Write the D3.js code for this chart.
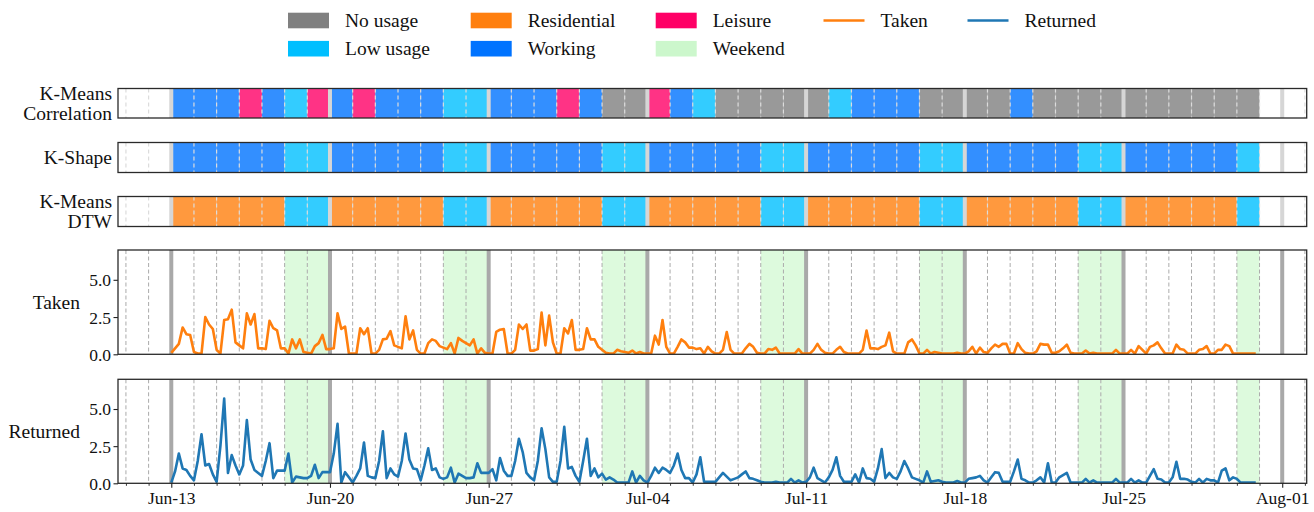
<!DOCTYPE html>
<html><head><meta charset="utf-8">
<script src="https://cdn.jsdelivr.net/npm/d3@7"></script>
<style>
body{margin:0;background:#fff}
text{font-family:"Liberation Serif","DejaVu Serif","Times New Roman",serif;fill:#111}
</style>
</head><body>
<svg id="chart" width="1314" height="512"></svg>
<script>
// ---- data -------------------------------------------------------------
const firstDay = "2016-06-13";          // first day with observations (Monday)
const categories = ["No usage", "Low usage", "Residential", "Working", "Leisure"];
const categoryColors = ["#808080", "#00bfff", "#ff7f0e", "#0073ff", "#ff0066"];
const weekendColor = "#ccf7cc";
const seriesNames = ["Taken", "Returned"];
const seriesColors = ["#ff7f0e", "#1f77b4"];
const panelLabels = [["K-Means", "Correlation"], ["K-Shape"], ["K-Means", "DTW"], ["Taken"], ["Returned"]];
const tickLabels = ["Jun-13", "Jun-20", "Jun-27", "Jul-04", "Jul-11", "Jul-18", "Jul-25", "Aug-01"];
const yTickLabels = ["0.0", "2.5", "5.0"];

// daily cluster assignment, Jun 13 .. Jul 30
const kmeansCorrelation = [
  "Working","Working","Working","Leisure","Working","Low usage","Leisure",
  "Working","Leisure","Working","Working","Working","Low usage","Low usage",
  "Working","Working","Working","Leisure","Working","No usage","No usage",
  "Leisure","Working","Low usage","No usage","No usage","No usage","No usage",
  "No usage","Low usage","Working","Working","Working","No usage","No usage",
  "No usage","No usage","Working","No usage","No usage","No usage","No usage",
  "No usage","No usage","No usage","No usage","No usage","No usage"];
const kShape = [
  "Working","Working","Working","Working","Working","Low usage","Low usage",
  "Working","Working","Working","Working","Working","Low usage","Low usage",
  "Working","Working","Working","Working","Working","Low usage","Low usage",
  "Working","Working","Working","Working","Working","Low usage","Low usage",
  "Working","Working","Working","Working","Working","Low usage","Low usage",
  "Working","Working","Working","Working","Working","Low usage","Low usage",
  "Working","Working","Working","Working","Working","Low usage"];
const kmeansDTW = [
  "Residential","Residential","Residential","Residential","Residential","Low usage","Low usage",
  "Residential","Residential","Residential","Residential","Residential","Low usage","Low usage",
  "Residential","Residential","Residential","Residential","Residential","Low usage","Low usage",
  "Residential","Residential","Residential","Residential","Residential","Low usage","Low usage",
  "Residential","Residential","Residential","Residential","Residential","Low usage","Low usage",
  "Residential","Residential","Residential","Residential","Residential","Low usage","Low usage",
  "Residential","Residential","Residential","Residential","Residential","Low usage"];

// bikes taken, 4-hour bins (00,04,08,12,16,20h), one row per day
const taken = [
  0.1,0.4,0.7,1.8,1.35,1.3,
  0.15,0.05,0.05,2.5,2.0,1.7,
  0.3,0.05,2.3,2.35,3.0,0.8,
  0.6,0.4,2.75,2.0,2.7,0.4,
  0.4,0.35,2.25,1.75,1.6,0.4,
  0.4,0.05,1.0,0.4,1.0,0.15,
  0.1,0.05,0.55,0.75,1.3,0.35,
  0.35,0.4,2.75,1.7,1.85,0.05,
  0.05,0.05,1.75,1.35,1.75,0.05,
  0.05,0.3,1.0,1.05,1.55,0.6,
  0.5,0.4,2.55,1.0,1.6,0.3,
  0.05,0.05,0.75,1.0,0.9,0.55,
  0.45,0.35,0.75,0.05,1.1,0.9,
  0.75,0.6,1.0,0.05,0.4,0.1,
  0.05,0.05,1.5,1.65,1.7,0.05,
  0.05,0.3,2.0,1.7,2.0,0.25,
  0.25,0.35,2.8,0.6,2.6,0.8,
  0.05,0.05,1.75,1.4,2.3,0.3,
  0.3,0.35,1.75,1.0,1.0,0.5,
  0.3,0.1,0.05,0.05,0.3,0.2,
  0.15,0.1,0.25,0.05,0.15,0.05,
  0.05,0.05,1.25,0.65,2.3,0.5,
  0.05,0.05,0.5,1.0,0.8,0.45,
  0.45,0.35,0.4,0.05,0.5,0.2,
  0.05,0.05,0.3,1.5,0.3,0.05,
  0.05,0.05,0.4,0.7,0.5,0.1,
  0.05,0.05,0.35,0.3,0.45,0.05,
  0.05,0.05,0.05,0.05,0.35,0.05,
  0.05,0.05,0.3,0.7,0.3,0.1,
  0.05,0.05,0.3,0.5,0.15,0.05,
  0.05,0.05,0.05,0.3,1.6,0.4,
  0.4,0.35,0.5,0.6,1.45,0.2,
  0.05,0.05,0.05,0.8,1.0,0.6,
  0.05,0.05,0.3,0.05,0.15,0.1,
  0.05,0.05,0.05,0.05,0.1,0.05,
  0.05,0.2,0.5,0.05,0.45,0.15,
  0.1,0.4,0.65,0.5,0.7,0.7,
  0.05,0.05,0.75,0.35,0.1,0.05,
  0.05,0.2,0.7,0.65,0.65,0.1,
  0.1,0.2,0.4,0.65,0.1,0.05,
  0.05,0.05,0.25,0.05,0.1,0.05,
  0.05,0.05,0.05,0.05,0.3,0.05,
  0.05,0.05,0.3,0.05,0.55,0.3,
  0.05,0.5,0.6,0.8,0.4,0.05,
  0.05,0.05,0.65,0.35,0.3,0.05,
  0.05,0.05,0.3,0.35,0.55,0.05,
  0.05,0.3,0.3,0.65,0.55,0.05,
  0.05,0.05,0.05,0.05,0.05,0.05];

// bikes returned, same bins
const returned = [
  0.05,0.8,2.0,1.0,0.9,0.5,
  0.2,1.5,3.3,1.2,1.3,0.6,
  0.1,2.5,5.7,0.7,1.9,1.2,
  0.6,1.2,4.25,1.6,0.9,0.7,
  0.5,1.5,2.7,0.35,0.85,0.85,
  0.85,2.0,0.05,0.45,0.4,0.35,
  0.35,0.5,1.25,0.35,0.75,0.75,
  0.75,2.0,4.0,0.05,0.75,0.4,
  0.05,0.5,1.0,2.75,0.5,0.4,
  0.35,1.5,3.5,0.35,1.0,0.6,
  0.45,1.5,3.35,1.6,1.0,0.95,
  0.2,1.2,2.35,0.9,1.0,0.4,
  0.3,0.4,1.05,0.05,0.65,0.5,
  0.35,0.35,0.4,1.35,0.7,0.7,
  0.7,0.95,0.2,1.7,0.85,0.5,
  0.5,1.5,3.0,2.1,0.7,0.4,
  0.2,1.5,3.7,2.3,0.4,0.1,
  0.1,1.5,3.8,1.0,1.1,0.5,
  0.1,1.5,3.0,0.5,1.0,0.4,
  0.65,0.25,0.4,0.25,0.05,0.05,
  0.05,0.05,0.8,0.05,0.5,0.2,
  0.05,0.5,1.05,0.7,1.05,0.9,
  0.7,1.2,2.0,0.9,0.35,0.35,
  0.05,0.6,1.75,0.1,0.1,0.1,
  0.1,0.4,0.7,0.45,0.2,0.3,
  0.4,0.6,0.8,0.35,0.3,0.2,
  0.1,0.05,0.05,0.05,0.1,0.05,
  0.05,0.05,0.3,0.05,0.2,0.05,
  0.1,0.4,1.05,0.35,0.2,0.05,
  0.4,0.9,1.75,0.5,0.1,0.1,
  0.1,0.6,0.05,1.0,0.35,0.3,
  0.1,1.0,2.3,0.35,0.7,0.4,
  0.3,0.8,1.5,1.0,0.4,0.3,
  0.2,0.05,0.8,0.1,0.15,0.2,
  0.1,0.05,0.05,0.05,0.15,0.05,
  0.05,0.3,0.35,0.4,0.5,0.2,
  0.05,0.4,0.75,0.7,0.1,0.1,
  0.1,0.8,1.6,0.3,0.2,0.05,
  0.05,0.2,0.4,0.05,1.35,0.05,
  0.05,0.4,0.55,0.7,0.05,0.05,
  0.05,0.05,0.3,0.05,0.2,0.05,
  0.05,0.05,0.05,0.05,0.3,0.05,
  0.05,0.05,0.3,0.05,0.2,0.05,
  0.05,0.5,0.95,0.3,0.25,0.05,
  0.05,0.4,1.45,0.3,0.3,0.25,
  0.1,0.05,0.3,0.05,0.3,0.2,
  0.2,0.05,0.85,1.0,0.2,0.4,
  0.3,0.05,0.05,0.05,0.05,0.05];

// ---- layout -------------------------------------------------------------
const svg = d3.select("#chart");
const left = 118, right = 1306.7;
const t0 = new Date(firstDay + "T00:00:00Z");
const HOUR = 3600e3, DAY = 24 * HOUR;
const binHours = 24 / 6;

const x = d3.scaleUtc()
  .domain([new Date(t0.getTime() - 2.35 * DAY), new Date(t0.getTime() + 50.08 * DAY)])
  .range([left, right]);

const colorOf = d3.scaleOrdinal().domain(categories).range(categoryColors);

const allDays = d3.utcDay.range(d3.utcDay.ceil(x.domain()[0]), x.domain()[1]);
const mondays = d3.utcMonday.range(d3.utcDay.ceil(x.domain()[0]), x.domain()[1]);
const nDays = kmeansCorrelation.length;
const dataDays = d3.range(nDays).map(i => d3.utcDay.offset(t0, i));
const weekends = dataDays.filter(d => d.getUTCDay() === 6 || d.getUTCDay() === 0);

const panels = [
  {top: 88.5, bottom: 118, kind: "cluster", values: kmeansCorrelation},
  {top: 142.5, bottom: 172.5, kind: "cluster", values: kShape},
  {top: 196.5, bottom: 226.5, kind: "cluster", values: kmeansDTW},
  {top: 250, bottom: 354.3, kind: "line", values: taken, color: seriesColors[0]},
  {top: 379.3, bottom: 483.3, kind: "line", values: returned, color: seriesColors[1]}
];

const yMax = 7;

panels.forEach((p, pi) => {
  const g = svg.append("g");
  const clipId = "clip" + pi;
  svg.append("clipPath").attr("id", clipId)
    .append("rect").attr("x", left).attr("y", p.top)
    .attr("width", right - left).attr("height", p.bottom - p.top);
  const inner = g.append("g").attr("clip-path", `url(#${clipId})`);

  if (p.kind === "cluster") {
    // one coloured cell per day
    inner.selectAll("rect.cell").data(p.values).join("rect")
      .attr("class", "cell")
      .attr("x", (v, i) => x(dataDays[i]))
      .attr("width", (v, i) => x(d3.utcDay.offset(dataDays[i], 1)) - x(dataDays[i]))
      .attr("y", p.top).attr("height", p.bottom - p.top)
      .attr("fill", v => colorOf(v)).attr("fill-opacity", 0.8);
    inner.selectAll("line.day").data(allDays).join("line")
      .attr("x1", d => x(d)).attr("x2", d => x(d))
      .attr("y1", p.top).attr("y2", p.bottom)
      .attr("stroke", "#dcdcdc").attr("stroke-width", 1.2)
      .attr("stroke-dasharray", "4,3");
    inner.selectAll("line.mon").data(mondays).join("line")
      .attr("x1", d => x(d)).attr("x2", d => x(d))
      .attr("y1", p.top).attr("y2", p.bottom)
      .attr("stroke", "#d6d6d6").attr("stroke-width", 4);
  } else {
    const y = d3.scaleLinear().domain([0, yMax]).range([p.bottom, p.top]);
    // weekend shading
    inner.selectAll("rect.we").data(weekends).join("rect")
      .attr("x", d => x(d))
      .attr("width", d => x(d3.utcDay.offset(d, 1)) - x(d))
      .attr("y", p.top).attr("height", p.bottom - p.top)
      .attr("fill", "#ddfadd");
    inner.selectAll("line.day").data(allDays).join("line")
      .attr("x1", d => x(d)).attr("x2", d => x(d))
      .attr("y1", p.top).attr("y2", p.bottom)
      .attr("stroke", "#ababab").attr("stroke-width", 1)
      .attr("stroke-dasharray", "4,2.5");
    inner.selectAll("line.mon").data(mondays).join("line")
      .attr("x1", d => x(d)).attr("x2", d => x(d))
      .attr("y1", p.top).attr("y2", p.bottom)
      .attr("stroke", "#a9a9a9").attr("stroke-width", 4);
    const line = d3.line()
      .x((v, i) => x(new Date(t0.getTime() + i * binHours * HOUR)))
      .y(v => y(v));
    inner.append("path").datum(p.values)
      .attr("d", line).attr("fill", "none")
      .attr("stroke", p.color).attr("stroke-width", 2.6)
      .attr("stroke-linejoin", "round");
    // y axis
    const ya = d3.axisLeft(y).tickValues([0, 2.5, 5]).tickSize(4.5)
      .tickFormat((d, i) => yTickLabels[i]);
    const yg = g.append("g").attr("transform", `translate(${left},0)`).call(ya);
    yg.select(".domain").remove();
    yg.selectAll("line").attr("stroke", "#222").attr("stroke-width", 1.1);
    yg.selectAll("text").attr("font-size", 17.5).attr("fill", "#111")
      .attr("font-family", null).attr("x", -7).attr("dy", "0.34em");
    yg.attr("font-family", null);
  }
  // frame
  g.append("rect").attr("x", left).attr("y", p.top)
    .attr("width", right - left).attr("height", p.bottom - p.top)
    .attr("fill", "none").attr("stroke", "#2a2a2a").attr("stroke-width", 1.3);

  // panel label
  const lines = panelLabels[pi];
  const cx = p.kind === "cluster" ? 112 : 80;
  const mid = (p.top + p.bottom) / 2;
  const lh = 19.5;
  lines.forEach((s, k) => {
    g.append("text").attr("x", cx)
      .attr("y", mid + (k - (lines.length - 1) / 2) * lh + 6.5)
      .attr("text-anchor", "end").attr("font-size", 19.5).text(s);
  });

  // bottom axis on the last panel
  if (pi === panels.length - 1) {
    const xa = d3.axisBottom(x).tickValues(mondays).tickSize(4.5)
      .tickFormat((d, i) => tickLabels[i]);
    const xg = g.append("g").attr("transform", `translate(0,${p.bottom})`).call(xa);
    xg.attr("font-family", null);
    xg.select(".domain").remove();
    xg.selectAll("line").attr("stroke", "#222").attr("stroke-width", 1.1);
    xg.selectAll("text").attr("font-size", 17.5).attr("fill", "#111").attr("y", 8);
    const minor = d3.axisBottom(x).tickValues(allDays.filter(d => d.getUTCDay() !== 1))
      .tickSize(2.5).tickFormat("");
    const mg = g.append("g").attr("transform", `translate(0,${p.bottom})`).call(minor);
    mg.select(".domain").remove();
    mg.selectAll("line").attr("stroke", "#222").attr("stroke-width", 0.9);
  }
});

// ---- legend -------------------------------------------------------------
const legendItems = [
  {label: "No usage", type: "patch", color: categoryColors[0], col: 0, row: 0},
  {label: "Low usage", type: "patch", color: categoryColors[1], col: 0, row: 1},
  {label: "Residential", type: "patch", color: categoryColors[2], col: 1, row: 0},
  {label: "Working", type: "patch", color: categoryColors[3], col: 1, row: 1},
  {label: "Leisure", type: "patch", color: categoryColors[4], col: 2, row: 0},
  {label: "Weekend", type: "patch", color: weekendColor, col: 2, row: 1},
  {label: seriesNames[0], type: "line", color: seriesColors[0], col: 3, row: 0},
  {label: seriesNames[1], type: "line", color: seriesColors[1], col: 4, row: 0}
];
const colX = [288, 470.7, 655.7, 823.5, 967.5];
const rowY = [20.5, 48.7];
const leg = svg.append("g");
legendItems.forEach(it => {
  const x0 = colX[it.col], yc = rowY[it.row];
  if (it.type === "patch") {
    leg.append("rect").attr("x", x0).attr("y", yc - 7.8).attr("width", 41).attr("height", 15.6)
      .attr("fill", it.color);
  } else {
    leg.append("line").attr("x1", x0).attr("x2", x0 + 41).attr("y1", yc).attr("y2", yc)
      .attr("stroke", it.color).attr("stroke-width", 2.6);
  }
  leg.append("text").attr("x", x0 + 57).attr("y", yc + 6.5)
    .attr("font-size", 19.5).text(it.label);
});
</script>
</body></html>
